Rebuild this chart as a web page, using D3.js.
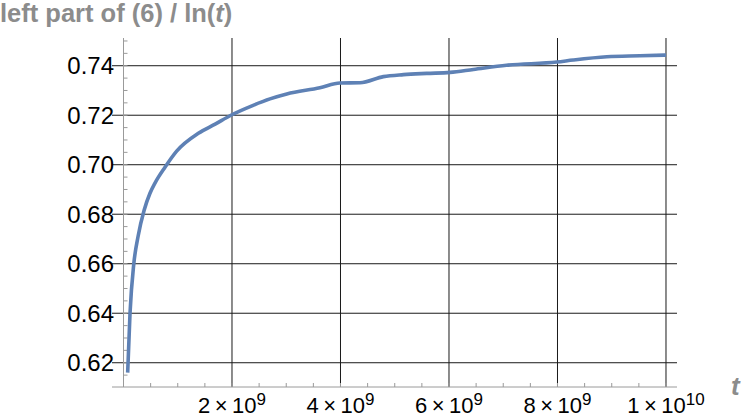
<!DOCTYPE html>
<html lang="en">
<head>
    <meta charset="UTF-8">
    <title>left part of (6) / ln(t)</title>
    <script src="https://d3js.org/d3.v7.min.js"></script>
    <style>
        body { margin: 0; background: #fff; }
        svg { font-family: "Liberation Sans", Arial, sans-serif; }
        .grid line { stroke: #1a1a1a; stroke-width: 1; }
        .axis line { stroke: #9a9a9a; stroke-width: 1; }
        .curve { fill: none; stroke: #5e81b5; stroke-width: 3.6px; stroke-linejoin: round; stroke-linecap: butt; }
    </style>
</head>
<body>
<script>

    // Values (t in units of 10^9)
    var tValues = [0.077, 0.12, 0.19, 0.27, 0.38, 0.488, 0.58, 0.765, 0.98, 1.38, 1.69, 1.98,
                   2.39, 2.7, 3.01, 3.62, 3.99, 4.36, 4.79, 5.16, 5.59, 6.02, 6.45,
                   7.06, 7.99, 8.29, 8.91, 9.52, 10.0];
    var ratioValues = [0.616, 0.640, 0.660, 0.6712, 0.6816, 0.6885, 0.6926, 0.6990, 0.7055, 0.7127, 0.7164, 0.720,
                       0.7240, 0.7266, 0.7286, 0.7311, 0.7330, 0.7331, 0.7356, 0.7364, 0.7369, 0.7373, 0.7385,
                       0.7402, 0.7415, 0.7423, 0.7436, 0.7440, 0.7443];

    // Tick values
    var xMajor = [2e9, 4e9, 6e9, 8e9, 1e10];
    var xLabels = [["2", "9"], ["4", "9"], ["6", "9"], ["8", "9"], ["1", "10"]];
    var yMajor = [0.62, 0.64, 0.66, 0.68, 0.70, 0.72, 0.74];
    var yLabels = ["0.62", "0.64", "0.66", "0.68", "0.70", "0.72", "0.74"];

    var width = 747, height = 417;

    var svg = d3.select("body")
        .append("svg")
        .attr("width", width)
        .attr("height", height);

    // Scales (plot range slightly wider than the data, as in the picture)
    var x = d3.scaleLinear().domain([-0.212e9, 10.203e9]).range([112, 677]);
    var y = d3.scaleLinear().domain([0.6102, 0.7512]).range([387, 38]);

    // Grid lines
    var grid = svg.append("g").attr("class", "grid");
    grid.selectAll(".h").data(yMajor).enter().append("line")
        .attr("x1", x.range()[0]).attr("x2", x.range()[1])
        .attr("y1", function(d) { return y(d); }).attr("y2", function(d) { return y(d); });
    grid.selectAll(".v").data(xMajor).enter().append("line")
        .attr("y1", y.range()[0]).attr("y2", y.range()[1])
        .attr("x1", function(d) { return x(d); }).attr("x2", function(d) { return x(d); });

    // Axes (drawn through the origin)
    var axes = svg.append("g").attr("class", "axis");
    axes.append("line")
        .attr("x1", x.range()[0]).attr("x2", x.range()[1])
        .attr("y1", y.range()[0]).attr("y2", y.range()[0]);
    axes.append("line")
        .attr("x1", x(0)).attr("x2", x(0))
        .attr("y1", y.range()[0]).attr("y2", y.range()[1]);

    // Minor ticks
    var xMinor = d3.range(0, 10.01e9, 0.5e9);
    axes.selectAll(".xm").data(xMinor).enter().append("line")
        .attr("x1", function(d) { return x(d); }).attr("x2", function(d) { return x(d); })
        .attr("y1", y.range()[0]).attr("y2", y.range()[0] - 4);
    var yMinor = d3.range(0.615, 0.7501, 0.005);
    axes.selectAll(".ym").data(yMinor).enter().append("line")
        .attr("x1", x(0)).attr("x2", x(0) + 4)
        .attr("y1", function(d) { return y(d); }).attr("y2", function(d) { return y(d); });

    // Y tick labels
    svg.append("g").selectAll("text").data(yMajor).enter().append("text")
        .attr("x", 114)
        .attr("y", function(d) { return y(d); })
        .attr("dy", "0.36em")
        .attr("text-anchor", "end")
        .attr("font-size", 24)
        .attr("fill", "#000")
        .text(function(d, i) { return yLabels[i]; });

    // X tick labels (a×10^b)
    var xl = svg.append("g").selectAll("text").data(xMajor).enter().append("text")
        .attr("x", function(d) { return x(d); })
        .attr("y", 413)
        .attr("text-anchor", "middle")
        .attr("font-size", 22)
        .attr("fill", "#000");
    xl.append("tspan").text(function(d, i) { return xLabels[i][0] + "\u2009\u00d7\u200910"; });
    xl.append("tspan").attr("font-size", 17).attr("dy", -8)
        .text(function(d, i) { return xLabels[i][1]; });

    // The curve
    var line = d3.line()
        .x(function(d) { return x(d[0] * 1e9); })
        .y(function(d) { return y(d[1]); })
        .curve(d3.curveMonotoneX);
    svg.append("path")
        .datum(d3.zip(tValues, ratioValues))
        .attr("class", "curve")
        .attr("d", line);

    // Axis labels
    var title = svg.append("text")
        .attr("x", 0).attr("y", 22)
        .attr("font-size", 25.5).attr("font-weight", "bold")
        .attr("fill", "#8c8c8c");
    title.append("tspan").text("left part of (6) / ln(");
    title.append("tspan").attr("font-style", "italic").text("t");
    title.append("tspan").text(")");

    svg.append("text")
        .attr("x", 731).attr("y", 395)
        .attr("font-size", 26).attr("font-weight", "bold").attr("font-style", "italic")
        .attr("fill", "#8c8c8c")
        .text("t");

</script>
</body>
</html>
